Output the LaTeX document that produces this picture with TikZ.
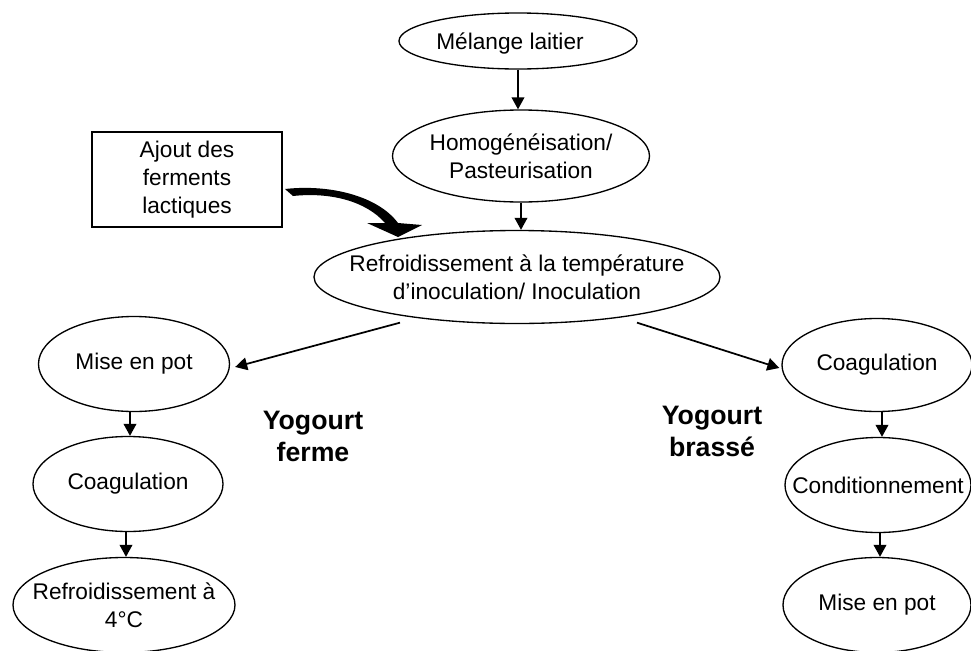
\documentclass[tikz,border=0pt]{standalone}
\usepackage{fontspec}
\setmainfont{Liberation Sans}
\usetikzlibrary{shapes.geometric,arrows.meta,calc}
\tikzset{
  ell/.style 2 args={draw, ellipse, line width=1pt, inner sep=0pt,
    minimum width=#1*0.75pt, minimum height=#2*0.75pt},
  txt/.style={label={[align=center, inner sep=0pt]center:#1}},
  arr/.style={line width=1.3pt, -{Triangle[length=9pt,width=9.5pt]}},
  bold/.style={font=\bfseries\fontsize{20}{24}\selectfont, align=center}
}
\begin{document}
\begin{tikzpicture}[x=0.75pt,y=-0.75pt, font=\fontsize{17}{21}\selectfont]
\useasboundingbox (0,0) rectangle (971,650);

% top column
\node[ell={238}{56}, label={[inner sep=0pt, xshift=-6pt, yshift=-2pt]center:Mélange laitier}] (A) at (518,41) {};
\node[ell={257}{92}, txt={Homogénéisation/\\Pasteurisation}] (B) at (521,156) {};
\node[ell={406}{93}, txt={Refroidissement à la température\\d’inoculation/ Inoculation}] (R) at (517,277) {};

% box
\node[draw, line width=1pt, minimum width=142.5pt, minimum height=71.25pt,
      align=center, inner sep=0pt] (F) at (187,179.5) {Ajout des\\ferments\\lactiques};

% left column
\node[ell={191}{95}, txt={Mise en pot}] (ML) at (134,364) {};
\node[ell={190}{95}, txt={Coagulation}] (CL) at (128,484) {};
\node[ell={222}{95}, txt={Refroidissement à\\4°C}] (RL) at (124,605) {};

% right column
\node[ell={190}{93}, txt={Coagulation}] (CR) at (877,365) {};
\node[ell={186}{95}, txt={Conditionnement}] (CD) at (878,485) {};
\node[ell={188}{95}, txt={Mise en pot}] (MR) at (877,605) {};

% labels
\node[bold] (YF) at (313,436) {Yogourt\\ferme};
\node[bold] (YB) at (712,431) {Yogourt\\brassé};

% vertical arrows
\coordinate (p1) at ($(ML.south)+(-4,0)$);
\coordinate (p2) at ($(CL.south)+(-2,0)$);
\coordinate (p3) at ($(CR.south)+(5,0)$);
\coordinate (p4) at ($(CD.south)+(2,0)$);
\draw[arr] (A.south) -- (A.south |- B.north);
\draw[arr] (B.south) -- (B.south |- R.north);
\draw[arr] (p1) -- (p1 |- CL.north);
\draw[arr] (p2) -- (p2 |- RL.north);
\draw[arr] (p3) -- (p3 |- CD.north);
\draw[arr] (p4) -- (p4 |- MR.north);

% diagonal arrows
\coordinate (Ls) at ($(R.south)+(-117,-1.5)$);
\coordinate (Rs) at ($(R.south)+(120,-1.5)$);
\draw[arr] (Ls) -- ($(ML.east)+(5,3)$);
\draw[arr] (Rs) -- ($(CR.west)+(-2,3)$);

% thick curved block arrow from box to R
\fill (285,189) .. controls (330,184) and (378,196) .. (398,223)
  -- (422,225) -- (398,237) -- (367,223) -- (385,223)
  .. controls (366,201) and (330,192) .. (293,196) -- cycle;
\end{tikzpicture}
\end{document}
